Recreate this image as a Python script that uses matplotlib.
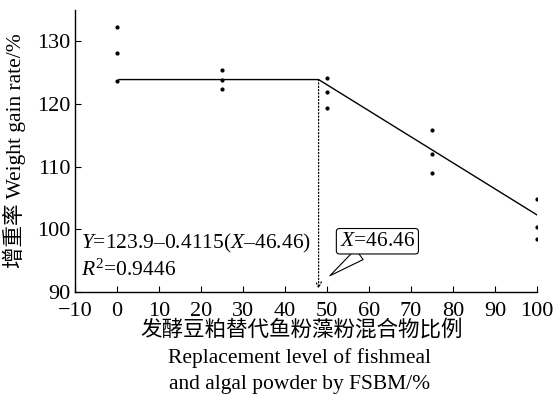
import numpy as np
import matplotlib.pyplot as plt

plt.rcParams['font.family'] = ['Liberation Serif', 'Noto Sans CJK SC']
plt.rcParams['mathtext.fontset'] = 'custom'
plt.rcParams['mathtext.rm'] = 'Liberation Serif'
plt.rcParams['mathtext.it'] = 'Liberation Serif:italic'

# replacement level (%) and weight gain rate (%) of each replicate
levels = [0, 0, 0, 25, 25, 25, 50, 50, 50, 75, 75, 75, 100, 100, 100]
wgr = [132.3, 128.2, 123.6, 125.4, 123.9, 122.4, 124.1, 121.9, 119.3,
       115.9, 112.1, 109.0, 104.8, 100.3, 98.5]

# broken-line fit as drawn
fit_x = [0.5, 48.0, 100.0]
fit_y = [123.9, 123.9, 102.3]
break_x = 48.0

xticks = [-10, 0, 10, 20, 30, 40, 50, 60, 70, 80, 90, 100]
yticks = [90, 100, 110, 120, 130]

fs = 15.5

fig = plt.figure(figsize=(5.58, 3.97), dpi=100)
ax = fig.add_axes([75 / 558, 1 - 292 / 397, 462 / 558, 282 / 397])

ax.plot(levels, wgr, linestyle='', marker='o', color='k', markersize=2)
ax.plot(fit_x, fit_y, color='k', lw=1)

ax.annotate('', xy=(break_x, 90.5), xytext=(break_x, 123.9),
            arrowprops=dict(arrowstyle='->', linestyle=':', lw=0.9, color='k',
                            shrinkA=0, shrinkB=0))

ax.annotate('$X$=46.46', xy=(50.7, 92.6), xytext=(62.0, 98.1),
            ha='center', va='center', fontsize=fs,
            bbox=dict(boxstyle='round,pad=0.15', fc='white', ec='k', lw=0.8),
            arrowprops=dict(arrowstyle='wedge,tail_width=0.6', fc='white',
                            ec='k', lw=0.8, shrinkA=0, shrinkB=0))

ax.text(-8.5, 97.7, '$Y$=123.9\u20130.4115($X$\u201346.46)', fontsize=fs,
        va='center', ha='left')
ax.text(-8.5, 93.4, '$R^{\\mathrm{2}}$=0.9446', fontsize=fs,
        va='center', ha='left')

ax.set_xlim(-10, 100)
ax.set_ylim(90, 135)
ax.set_xticks(xticks)
ax.set_yticks(yticks)
ax.tick_params(direction='in', labelsize=16, length=4, width=0.8)
ax.tick_params(axis='x', pad=7)
ax.tick_params(axis='y', pad=3)
for s in ['top', 'right']:
    ax.spines[s].set_visible(False)
for s in ['left', 'bottom']:
    ax.spines[s].set_linewidth(1)

ax.set_ylabel('增重率 Weight gain rate/%', fontsize=fs)
ax.yaxis.set_label_coords(-0.106, 0.50)

fig.text(302 / 558, 1 - 330 / 397, '发酵豆粕替代鱼粉藻粉混合物比例',
         ha='center', va='center', fontsize=fs)
fig.text(300 / 558, 1 - 358 / 397, 'Replacement level of fishmeal',
         ha='center', va='center', fontsize=fs)
fig.text(300 / 558, 1 - 385 / 397, 'and algal powder by FSBM/%',
         ha='center', va='center', fontsize=fs)

fig.savefig('out.png', dpi=100)
